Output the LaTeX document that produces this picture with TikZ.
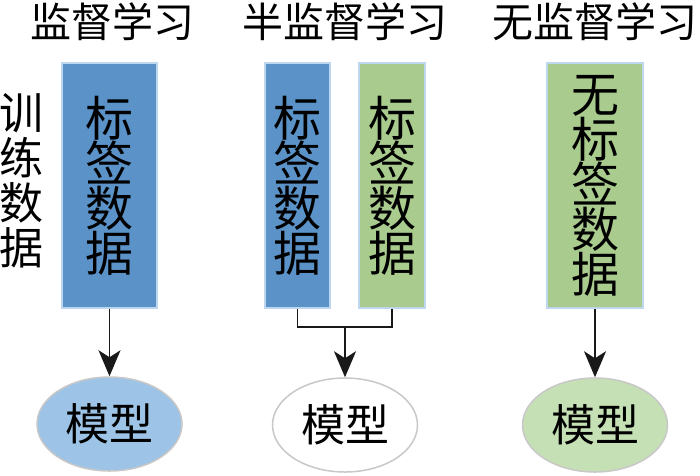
\documentclass[tikz,border=0pt]{standalone}
\usepackage{fontspec}
\setmainfont{Noto Sans CJK SC}
\usetikzlibrary{arrows.meta,shapes.geometric}
\definecolor{boxblue}{HTML}{5B93C9}
\definecolor{boxgreen}{HTML}{A9CB8E}
\definecolor{edgeblue}{HTML}{BDD7EE}
\definecolor{ellblue}{HTML}{9DC3E6}
\definecolor{ellgreen}{HTML}{C5E0B4}
\definecolor{elledge}{HTML}{C8C8C8}
\begin{document}
\begin{tikzpicture}[x=1pt,y=-1pt,
  title/.style={font=\fontsize{41}{41}\selectfont,inner sep=0pt},
  databox/.style={draw=edgeblue,line width=1.5pt,inner sep=0pt,align=center,
     font=\fontsize{48}{45}\selectfont},
  model/.style={ellipse,draw=elledge,line width=1.5pt,minimum width=145pt,minimum height=94pt,
     inner sep=0pt,font=\fontsize{44}{44}\selectfont},
  conn/.style={line width=1.8pt,draw=black!90},
  arr/.style={conn,-{Stealth[length=26pt,width=22pt,inset=7pt]}}]
\useasboundingbox (0,0) rectangle (700,475);
% titles
\node[title] (t1) at (112,22) {监督学习};
\node[title] (t2) at (345,22) {半监督学习};
\node[title] (t3) at (595,22) {无监督学习};
% side label
\node[inner sep=0pt,align=center,font=\fontsize{44}{45}\selectfont] (side) at (21,181) {训\\练\\数\\据};
% boxes
\node[databox,fill=boxblue,minimum width=95pt,minimum height=245pt] (b1) at (109.5,185.5) {标\\签\\数\\据};
\node[databox,fill=boxblue,minimum width=65pt,minimum height=245pt] (b2) at (297.5,185.5) {标\\签\\数\\据};
\node[databox,fill=boxgreen,minimum width=66pt,minimum height=245pt] (b3) at (392,185.5) {标\\签\\数\\据};
\node[databox,fill=boxgreen,minimum width=96pt,minimum height=245pt] (b4) at (595,185.5) {无\\标\\签\\数\\据};
% models
\node[model,fill=ellblue] (m1) at (109.5,424) {模型};
\node[model,fill=white] (m2) at (345,425) {模型};
\node[model,fill=ellgreen] (m3) at (595,425) {模型};
% connectors
\draw[arr] (b1.south) -- (m1.north);
\coordinate (j) at (345,327);
\draw[conn] (b2.south) |- (j) -| (b3.south);
\draw[arr] (j) -- (m2.north);
\draw[arr] (b4.south) -- (m3.north);
\end{tikzpicture}
\end{document}
